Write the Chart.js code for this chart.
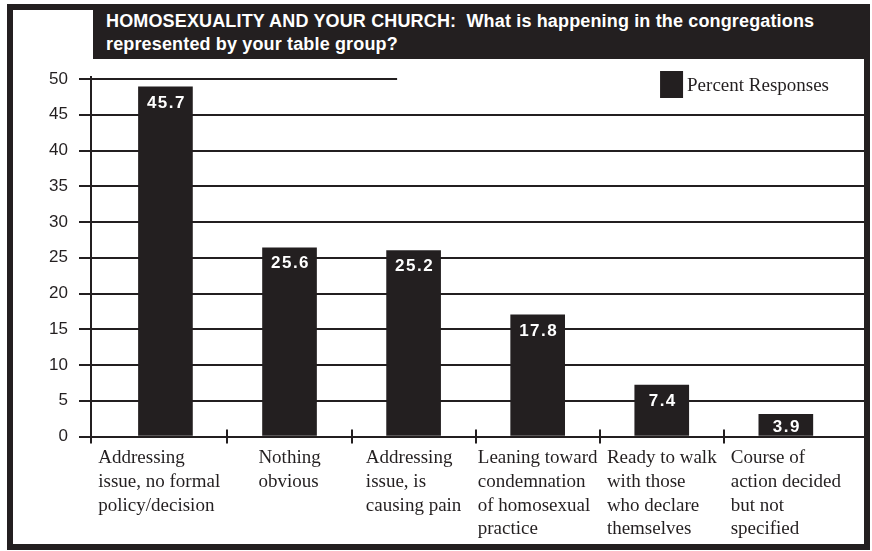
<!DOCTYPE html>
<html>
<head>
<meta charset="utf-8">
<script src="https://cdn.jsdelivr.net/npm/chart.js@4.4.1/dist/chart.umd.min.js"></script>
<style>
  html, body { margin: 0; padding: 0; background: #ffffff; }
  body { width: 872px; height: 551px; position: relative; overflow: hidden; }
  #frame { position: absolute; left: 7px; top: 4px; width: 851px; height: 534px; border: 6px solid #231f20; }
  #title { position: absolute; left: 93px; top: 9px; width: 758px; height: 49px; padding: 1px 0 0 13px;
           background: #231f20; color: #ffffff; font: bold 18px "Liberation Sans", Arial, sans-serif; line-height: 23.4px;
           letter-spacing: 0.15px; white-space: nowrap; }
  #c { position: absolute; left: 0; top: 0; }
</style>
</head>
<body>
<div id="frame"></div>
<div id="title">HOMOSEXUALITY AND YOUR CHURCH:&nbsp; What is happening in the congregations<br>represented by your table group?</div>
<canvas id="c" width="872" height="551"></canvas>
<script>
// ---- data ----
const categories = [
  ["Addressing", "issue, no formal", "policy/decision"],
  ["Nothing", "obvious"],
  ["Addressing", "issue, is", "causing pain"],
  ["Leaning toward", "condemnation", "of homosexual", "practice"],
  ["Ready to walk", "with those", "who declare", "themselves"],
  ["Course of", "action decided", "but not", "specified"]
];
// bar heights as drawn against the axis
const barHeights = [48.9, 26.4, 26.0, 17.0, 7.2, 3.1];
// values printed inside the bars
const valueLabels = ["45.7", "25.6", "25.2", "17.8", "7.4", "3.9"];
const seriesName = "Percent Responses";
const yMin = 0, yMax = 50, yStep = 5;

const ink = "#231f20";
const sans = '"Liberation Sans", Arial, sans-serif';
const serif = '"Liberation Serif", "Times New Roman", serif';

const decor = {
  id: "decor",
  beforeDatasetsDraw(chart) {
    const { ctx, chartArea: a, scales: { y } } = chart;
    ctx.save();
    ctx.strokeStyle = ink;
    ctx.lineWidth = 2;
    const yTop = y.getPixelForValue(yMax);
    ctx.beginPath();
    ctx.moveTo(a.left - 12, yTop);
    ctx.lineTo(a.left + (a.right - a.left) * 0.396, yTop);
    ctx.stroke();
    ctx.restore();
  },
  afterDatasetsDraw(chart) {
    const { ctx, chartArea: a, scales: { x, y } } = chart;
    const y0 = y.getPixelForValue(0);
    ctx.save();
    ctx.strokeStyle = ink;
    ctx.lineWidth = 2;
    ctx.beginPath();
    for (let i = 0; i < categories.length - 1; i++) {
      const px = Math.round(x.getPixelForValue(i + 0.5));
      ctx.moveTo(px, y0 - 7);
      ctx.lineTo(px, y0 + 7);
    }
    ctx.moveTo(a.left, y0);
    ctx.lineTo(a.left, y0 + 7);
    ctx.moveTo(a.left, a.top);
    ctx.lineTo(a.left, a.top - 3);
    ctx.stroke();

    // value labels inside bars
    const meta = chart.getDatasetMeta(0);
    ctx.fillStyle = "#ffffff";
    ctx.font = "bold 17px " + sans;
    ctx.textAlign = "center";
    ctx.textBaseline = "middle";
    try { ctx.letterSpacing = "1.5px"; } catch (e) {}
    meta.data.forEach((bar, i) => {
      const h = bar.base - bar.y;
      const off = Math.min(16, h / 2 + 2);
      ctx.fillText(valueLabels[i], bar.x + 1, bar.y + off);
    });
    ctx.restore();
  },
  afterDraw(chart) {
    const { ctx, chartArea: a, scales: { x, y } } = chart;
    const y0 = y.getPixelForValue(0);
    ctx.save();
    ctx.fillStyle = ink;
    ctx.font = "19px " + serif;
    ctx.textAlign = "left";
    ctx.textBaseline = "alphabetic";
    const bounds = [a.left];
    for (let i = 0; i < categories.length; i++) bounds.push(x.getPixelForValue(i + 0.5));
    categories.forEach((lines, i) => {
      const cx = (bounds[i] + bounds[i + 1]) / 2;
      const w = Math.max(...lines.map(l => ctx.measureText(l).width));
      const sx = cx - w / 2;
      lines.forEach((l, k) => ctx.fillText(l, sx, y0 + 26.5 + k * 23.8));
    });

    // legend
    const ds = chart.data.datasets[0];
    const tw = ctx.measureText(ds.label).width;
    const tx = a.right - 35 - tw;
    ctx.fillStyle = ds.backgroundColor;
    ctx.fillRect(tx - 27, a.top - 8, 23, 27);
    ctx.fillStyle = ink;
    ctx.fillText(ds.label, tx, a.top + 12);
    ctx.restore();
  }
};

new Chart(document.getElementById("c"), {
  type: "bar",
  data: {
    datasets: [{
      label: seriesName,
      data: barHeights.map((v, i) => ({ x: i, y: v })),
      backgroundColor: ink,
      borderWidth: 0,
      barThickness: 54
    }]
  },
  options: {
    responsive: false,
    animation: false,
    devicePixelRatio: 1,
    layout: { padding: { left: 0, top: 79, right: 8, bottom: 114.5 } },
    plugins: { legend: { display: false }, tooltip: { enabled: false } },
    scales: {
      x: {
        type: "linear",
        display: false,
        offset: false,
        grid: { offset: false },
        min: -0.6,
        max: 5.63
      },
      y: {
        min: yMin,
        max: yMax,
        ticks: { stepSize: yStep, color: ink, padding: 11, font: { family: sans, size: 17 } },
        grid: {
          color: c => (c.tick && c.tick.value === yMax) ? "rgba(0,0,0,0)" : ink,
          tickColor: ink,
          lineWidth: 2,
          tickLength: 12
        },
        border: { display: true, color: ink, width: 2 },
        afterFit: s => { s.width = 91; }
      }
    }
  },
  plugins: [decor]
});
</script>
</body>
</html>
